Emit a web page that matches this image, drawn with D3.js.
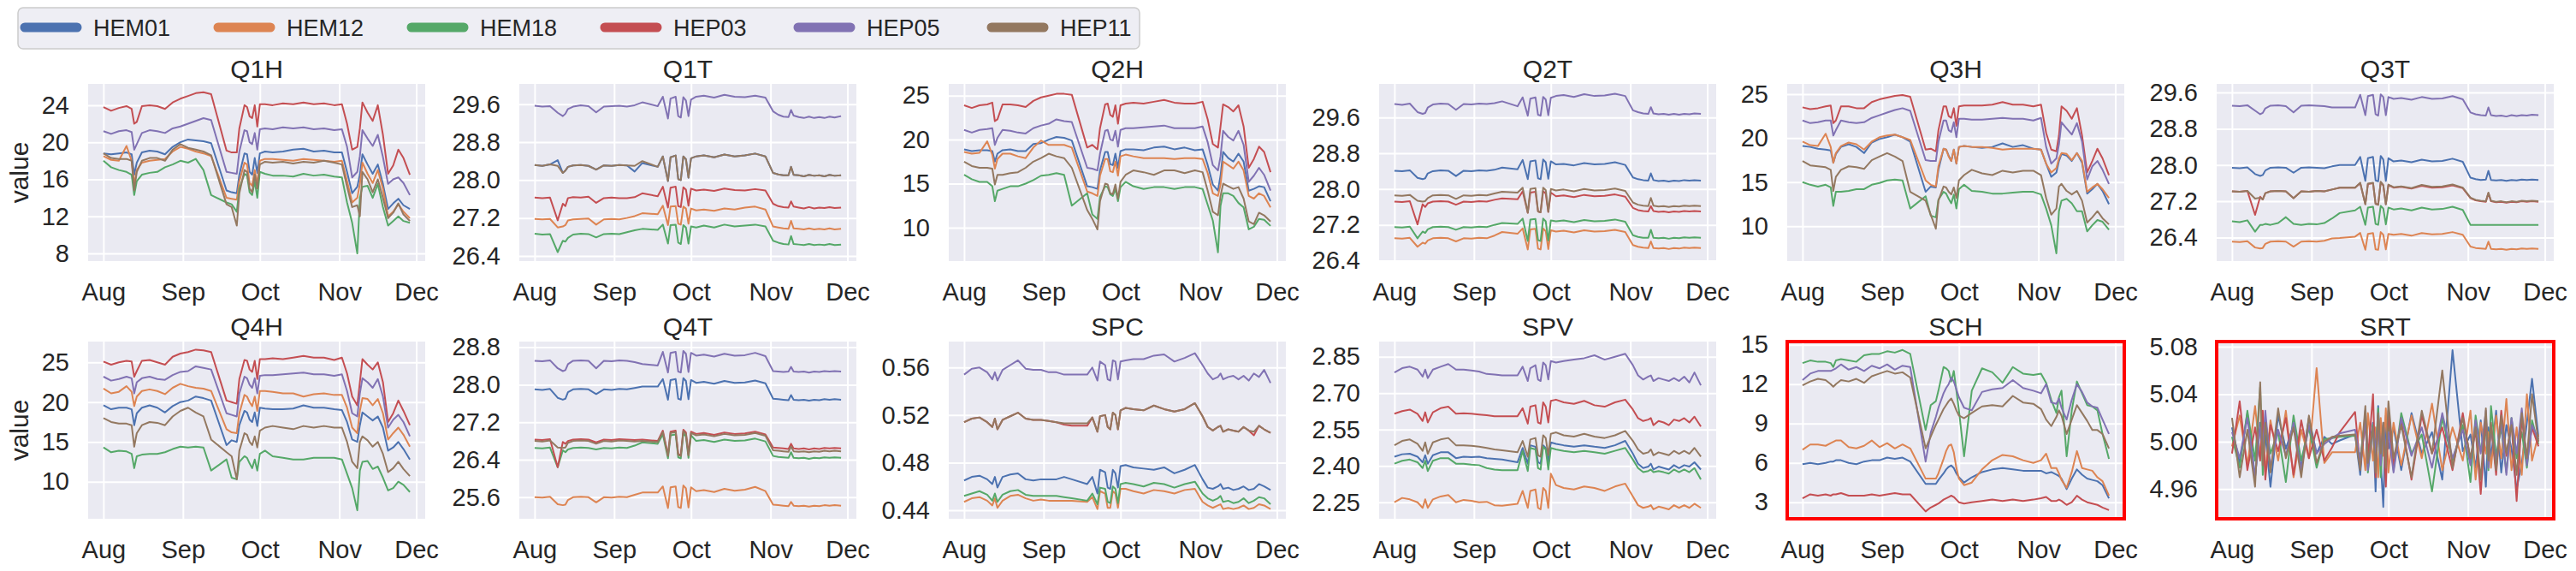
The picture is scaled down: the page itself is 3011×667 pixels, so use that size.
<!DOCTYPE html>
<html>
<head>
<meta charset="utf-8">
<script src="https://cdn.jsdelivr.net/npm/d3@7"></script>
<style>
  body { margin: 0; background: #fff; }
  svg text { font-family: "Liberation Sans", Arial, sans-serif; fill: #262626; }
</style>
</head>
<body>
<svg id="chart"></svg>
<script>
// day offsets from Aug 1 shared by every sensor series
const days = [0,3,6,9,11,12,13,15,18,21,24,27,30,33,36,39,42,48,50,52,53,55,56,57,58,59,60,61,63,66,70,74,78,82,86,90,93,95,97,99,100,101,103,105,107,109,111,113,115,117,119.5];

const sensors = ["HEM01","HEM12","HEM18","HEP03","HEP05","HEP11"];
const colors = ["#4c72b0","#dd8452","#55a868","#c44e52","#8172b3","#937860"];
const panelNames = ["Q1H","Q1T","Q2H","Q2T","Q3H","Q3T","Q4H","Q4T","SPC","SPV","SCH","SRT"];

// y ticks / limits / formats per panel
const yTicks = [
  [8,12,16,20,24],[26.4,27.2,28.0,28.8,29.6],[10,15,20,25],[26.4,27.2,28.0,28.8,29.6],
  [10,15,20,25],[26.4,27.2,28.0,28.8,29.6],[10,15,20,25],[25.6,26.4,27.2,28.0,28.8],
  [0.44,0.48,0.52,0.56],[2.25,2.40,2.55,2.70,2.85],[3,6,9,12,15],[4.96,5.00,5.04,5.08]
];
const yLimits = [
  [7.17,26.3],[26.29,30.03],[6.2,26.33],[26.39,30.35],[6.03,26.16],[25.88,29.79],
  [5.34,27.61],[25.14,28.92],[0.4328,0.5818],[2.182,2.9125],[1.74,15.24],[4.935,5.0843]
];
const yFormats = ["d",".1f","d",".1f","d",".1f","d",".1f",".2f",".2f","d",".2f"];
const highlighted = ["SCH","SRT"];

// series order: HEM01, HEM12, HEM18, HEP03, HEP05, HEP11
const Q1H = [
  [18.8,18.7,18.8,18.9,18.7,16.5,17.8,18.9,19.1,19.0,18.7,19.5,20.0,20.3,20.2,20.1,19.9,14.8,14.6,14.5,16.5,18.8,18.7,16.8,16.5,18.3,16.7,18.8,19.0,18.9,19.0,19.2,19.3,19.0,19.1,18.9,18.9,16.8,14.5,15.2,16.5,18.7,17.6,16.6,17.6,15.5,12.8,13.4,13.9,13.2,12.8],
  [18.5,18.1,18.0,19.6,18.0,15.5,17.0,17.8,18.0,18.1,18.2,19.0,19.5,19.3,19.0,18.8,18.5,14.0,13.9,13.8,15.8,17.8,17.6,15.6,15.3,17.0,15.5,18.0,18.2,18.2,18.1,18.0,18.2,18.1,18.0,17.9,18.0,15.8,13.5,14.0,15.5,17.8,16.6,15.6,17.0,15.0,12.0,12.5,13.3,12.5,11.8],
  [18.0,17.3,17.0,16.8,16.5,14.3,15.8,16.5,16.7,16.8,17.3,17.6,18.0,17.8,18.2,17.0,14.3,13.5,13.3,12.5,15.0,16.6,16.4,14.6,14.3,15.8,14.0,16.8,16.6,16.4,16.4,16.3,16.6,16.4,16.5,16.3,16.2,13.5,11.3,8.0,14.0,15.2,15.3,14.0,15.5,13.0,11.0,11.5,12.0,11.5,11.3],
  [23.8,23.4,23.7,23.9,23.6,22.0,22.2,23.9,24.0,23.9,23.6,24.3,24.7,25.0,25.3,25.4,25.2,19.1,18.9,18.9,21.5,24.0,23.8,22.8,22.6,24.0,21.7,24.1,24.1,24.0,24.2,24.1,24.3,24.1,24.2,24.0,24.1,22.0,19.2,19.5,21.5,24.3,23.2,22.3,24.0,20.8,16.6,17.5,19.2,18.3,16.5],
  [21.2,20.9,21.2,21.3,21.1,19.2,19.8,21.0,21.3,21.2,21.0,21.5,21.7,22.0,22.3,22.6,22.4,16.8,16.7,16.6,19.0,21.3,21.2,20.0,19.8,21.0,19.2,21.4,21.5,21.4,21.6,21.5,21.6,21.4,21.5,21.3,21.4,19.5,16.2,16.8,18.5,21.3,20.4,19.6,20.8,18.4,15.5,16.0,16.2,15.6,14.3],
  [18.8,18.3,18.2,18.2,18.0,14.8,16.8,18.0,18.3,18.3,18.0,19.2,19.8,19.4,19.2,19.0,18.6,13.3,13.0,11.0,14.5,17.0,16.8,15.0,14.6,16.5,15.0,17.6,17.9,17.8,17.9,17.7,17.9,17.8,18.0,17.8,17.6,15.2,13.0,13.2,12.0,16.8,16.0,14.6,16.0,14.0,11.8,12.4,13.4,12.2,11.5]
];
const Q1T = [
  [28.32,28.30,28.33,28.42,28.15,28.20,28.28,28.31,28.32,28.30,28.22,28.31,28.30,28.32,28.31,28.18,28.36,28.28,28.50,27.98,28.48,28.52,28.02,28.00,28.50,28.44,28.05,28.46,28.50,28.52,28.48,28.54,28.50,28.52,28.56,28.50,28.15,28.12,28.10,28.10,28.28,28.11,28.10,28.08,28.11,28.09,28.10,28.08,28.11,28.09,28.10],
  [27.18,27.17,27.18,27.00,27.02,27.05,27.15,27.17,27.18,27.19,27.06,27.17,27.18,27.17,27.20,27.24,27.30,27.28,27.46,27.05,27.44,27.45,27.08,27.06,27.44,27.40,27.08,27.40,27.36,27.38,27.35,27.40,27.38,27.42,27.44,27.38,27.02,27.00,26.98,26.97,27.14,26.98,26.97,26.96,26.98,26.96,26.97,26.96,26.98,26.96,26.97],
  [26.87,26.85,26.86,26.48,26.72,26.70,26.78,26.85,26.87,26.86,26.79,26.86,26.87,26.86,26.90,26.94,26.97,26.95,27.06,26.66,27.05,27.06,26.68,26.65,27.05,27.00,26.66,27.02,27.00,27.04,27.00,27.06,27.02,27.04,27.06,27.02,26.72,26.68,26.65,26.64,26.82,26.65,26.64,26.63,26.65,26.63,26.64,26.63,26.65,26.63,26.64],
  [27.63,27.62,27.63,27.15,27.50,27.45,27.62,27.64,27.63,27.65,27.52,27.62,27.63,27.62,27.62,27.64,27.72,27.66,27.86,27.42,27.84,27.86,27.45,27.43,27.85,27.80,27.46,27.82,27.78,27.80,27.77,27.82,27.79,27.78,27.81,27.78,27.50,27.45,27.43,27.42,27.55,27.44,27.42,27.40,27.43,27.40,27.42,27.41,27.43,27.41,27.42],
  [29.57,29.55,29.56,29.42,29.35,29.40,29.50,29.55,29.58,29.56,29.43,29.55,29.56,29.57,29.55,29.58,29.64,29.56,29.76,29.30,29.72,29.76,29.35,29.32,29.75,29.68,29.35,29.70,29.76,29.78,29.74,29.80,29.76,29.75,29.78,29.74,29.45,29.38,29.34,29.33,29.48,29.36,29.33,29.31,29.34,29.31,29.33,29.31,29.34,29.32,29.35],
  [28.32,28.30,28.33,28.30,28.15,28.20,28.28,28.31,28.32,28.30,28.22,28.31,28.30,28.32,28.31,28.30,28.40,28.28,28.50,27.98,28.48,28.52,28.02,28.00,28.50,28.44,28.05,28.46,28.50,28.52,28.48,28.54,28.50,28.52,28.56,28.50,28.15,28.12,28.10,28.10,28.28,28.11,28.10,28.08,28.11,28.09,28.10,28.08,28.11,28.09,28.10]
];
const Q2H = [
  [18.9,18.7,18.8,18.8,18.7,17.5,18.4,18.8,18.9,18.7,18.7,19.5,19.6,20.0,20.3,20.2,19.9,14.7,14.6,14.4,16.5,18.6,18.6,17.2,17.1,18.4,16.8,18.7,18.9,18.9,18.8,19.1,19.2,18.9,19.1,18.8,18.9,17.1,14.9,14.2,15.9,18.6,17.9,17.5,18.4,17.5,14.2,14.4,14.7,14.6,13.0],
  [18.6,18.4,18.5,19.8,18.3,16.7,17.8,18.4,18.4,18.1,17.9,19.1,19.9,19.4,19.4,19.4,19.1,14.1,13.9,13.6,15.9,17.8,17.8,16.4,16.3,17.5,15.9,18.1,18.3,18.1,17.9,17.9,17.9,17.8,17.9,17.9,17.8,16.2,13.9,13.6,14.9,17.5,17.1,16.7,17.5,16.5,13.6,13.3,13.9,13.6,12.3],
  [16.0,15.5,15.2,15.2,14.7,13.0,14.2,14.4,14.7,14.7,15.0,15.4,15.9,16.0,16.2,16.0,12.5,13.9,11.5,11.0,13.5,14.7,14.6,13.8,13.6,14.4,13.0,14.6,15.2,14.7,14.4,14.6,14.6,14.4,14.6,14.6,14.4,12.6,10.8,7.2,12.5,13.9,13.9,13.6,12.8,12.3,9.8,10.1,11.0,10.9,10.2],
  [23.9,23.6,23.9,24.0,24.2,22.1,22.3,24.0,24.0,23.9,23.7,24.4,24.8,25.0,25.2,25.2,25.1,19.1,19.4,18.9,21.3,24.0,24.1,22.8,22.6,23.9,21.8,23.9,24.1,24.2,24.1,24.3,24.5,24.2,24.1,24.1,24.3,22.3,19.5,19.1,21.5,24.0,23.7,23.2,23.9,21.5,16.8,17.8,19.2,18.6,16.3],
  [21.1,20.8,21.1,21.2,21.3,19.4,20.2,21.1,21.0,20.8,20.7,21.3,21.6,21.8,22.3,22.1,22.0,16.8,16.7,16.5,18.4,21.0,21.1,20.0,19.9,21.0,19.2,21.1,21.3,21.3,21.4,21.5,21.6,21.3,21.3,21.3,21.5,19.7,17.1,16.5,18.1,21.0,20.3,19.9,21.0,19.4,15.2,15.9,16.8,16.0,14.2],
  [17.5,17.0,16.8,16.8,16.7,14.9,16.0,16.0,16.2,16.3,16.8,17.5,17.9,18.4,18.1,17.9,16.8,12.0,11.0,9.8,13.0,15.0,14.9,13.9,13.8,14.9,13.3,15.2,16.0,16.5,16.3,16.0,16.5,16.5,16.2,16.5,16.3,14.2,11.8,11.4,13.6,15.0,14.7,14.4,14.6,13.3,10.7,10.4,11.7,11.4,10.7]
];
const Q2T = [
  [28.41,28.40,28.42,28.25,28.22,28.24,28.35,28.40,28.42,28.41,28.29,28.41,28.40,28.42,28.41,28.43,28.48,28.44,28.65,28.22,28.62,28.64,28.24,28.22,28.66,28.60,28.23,28.62,28.55,28.56,28.53,28.58,28.55,28.56,28.60,28.54,28.26,28.22,28.20,28.19,28.35,28.20,28.18,28.19,28.17,28.19,28.18,28.20,28.19,28.20,28.19],
  [26.90,26.89,26.91,26.71,26.80,26.78,26.85,26.90,26.91,26.90,26.83,26.90,26.89,26.91,26.90,26.96,27.04,27.00,27.12,26.65,27.10,27.11,26.67,26.65,27.12,27.06,26.66,27.08,27.05,27.07,27.03,27.08,27.05,27.06,27.09,27.04,26.75,26.71,26.69,26.68,26.83,26.68,26.67,26.68,26.66,26.68,26.67,26.69,26.68,26.69,26.68],
  [27.15,27.14,27.16,26.90,27.05,27.02,27.10,27.15,27.16,27.15,27.09,27.15,27.14,27.16,27.15,27.20,27.24,27.22,27.34,26.84,27.32,27.33,26.86,26.84,27.34,27.28,26.85,27.30,27.28,27.30,27.26,27.31,27.28,27.29,27.32,27.27,26.97,26.93,26.91,26.91,27.09,26.91,26.90,26.91,26.89,26.91,26.90,26.92,26.91,26.92,26.91],
  [27.72,27.71,27.73,27.21,27.66,27.60,27.68,27.72,27.73,27.72,27.65,27.72,27.71,27.73,27.72,27.76,27.79,27.77,27.95,27.47,27.92,27.94,27.50,27.48,27.95,27.90,27.49,27.92,27.84,27.86,27.82,27.87,27.84,27.85,27.88,27.83,27.58,27.53,27.51,27.50,27.62,27.51,27.49,27.50,27.48,27.50,27.49,27.51,27.50,27.51,27.50],
  [29.90,29.88,29.91,29.72,29.68,29.70,29.82,29.89,29.91,29.90,29.77,29.90,29.89,29.91,29.90,29.92,29.96,29.85,30.05,29.64,30.02,30.05,29.66,29.64,30.06,30.00,29.65,30.04,30.08,30.10,30.06,30.12,30.08,30.09,30.13,30.08,29.76,29.72,29.69,29.68,29.83,29.69,29.67,29.68,29.66,29.68,29.66,29.68,29.67,29.69,29.68],
  [27.86,27.85,27.87,27.74,27.72,27.73,27.80,27.86,27.87,27.86,27.78,27.86,27.85,27.87,27.86,27.90,27.94,27.92,28.03,27.47,28.00,28.02,27.50,27.48,28.03,27.98,27.49,28.00,27.97,27.99,27.95,28.00,27.97,27.98,28.01,27.96,27.70,27.65,27.63,27.62,27.80,27.63,27.61,27.62,27.60,27.62,27.61,27.63,27.62,27.63,27.62]
];
const Q3H = [
  [19.1,19.0,18.8,18.7,18.6,17.2,18.2,19.0,19.3,19.0,18.3,19.5,19.9,20.1,20.4,20.1,19.6,13.9,14.5,14.4,16.4,18.8,18.7,18.0,17.4,18.7,17.1,19.0,19.1,19.0,18.9,19.0,19.4,19.0,19.2,18.8,18.7,17.1,15.6,16.1,17.4,18.2,18.0,17.4,18.3,17.2,13.7,14.2,14.8,14.0,12.5],
  [19.6,19.2,19.1,20.5,19.0,17.2,18.3,19.1,19.5,19.3,18.7,19.6,20.1,20.3,20.4,20.1,19.8,15.2,14.7,14.5,16.8,18.8,18.7,17.9,17.4,18.7,17.1,19.0,19.1,19.0,19.0,18.9,18.7,18.8,18.8,18.8,18.7,17.1,16.1,16.6,17.7,18.3,18.2,17.5,18.3,17.4,13.9,14.4,14.8,14.2,13.2],
  [15.0,14.7,14.5,14.7,14.4,12.3,13.9,13.9,14.0,14.2,14.2,14.7,14.9,15.2,15.3,15.2,12.0,13.4,11.2,11.0,13.0,13.9,13.7,13.1,12.6,13.6,12.0,14.2,14.7,14.0,13.9,13.7,13.7,13.8,13.9,13.9,13.6,12.0,10.1,6.9,11.7,12.9,13.1,12.6,11.7,11.7,9.4,10.1,10.7,10.5,9.6],
  [23.5,23.3,23.4,23.6,23.7,21.7,22.0,23.6,23.6,23.4,23.4,24.1,24.4,24.6,24.8,24.9,24.7,18.7,18.8,18.5,20.9,23.6,23.6,22.5,22.3,23.4,21.4,23.6,23.7,23.7,23.7,23.8,24.1,23.8,23.8,23.6,23.8,20.6,18.7,18.5,20.3,23.6,23.1,22.2,23.4,20.3,16.1,17.4,18.8,17.7,15.8],
  [22.0,21.7,21.8,22.0,22.0,20.3,20.9,22.0,21.8,21.7,21.8,22.3,22.6,22.9,23.2,23.4,23.1,17.5,17.4,17.4,19.6,22.0,22.0,20.9,20.7,21.8,20.1,22.2,22.2,22.1,22.1,22.2,22.3,22.2,22.2,22.0,22.3,19.0,17.1,17.7,19.3,21.8,21.1,20.4,21.7,19.6,15.3,16.8,17.4,16.4,14.8],
  [17.4,16.9,16.8,16.7,16.4,14.0,15.6,16.4,16.8,16.7,16.5,17.5,17.9,18.3,17.9,17.4,13.9,12.9,11.3,9.7,12.9,14.5,14.4,13.9,13.6,14.4,13.2,15.2,15.8,16.4,16.0,15.8,16.3,16.1,16.3,16.3,15.8,13.2,11.3,12.0,14.5,14.8,14.0,13.6,14.0,12.9,10.4,11.0,11.7,10.9,10.2]
];
const Q3T = [
  [27.94,27.93,27.95,27.80,27.76,27.78,27.88,27.94,27.95,27.94,27.83,27.94,27.95,27.94,27.93,27.97,28.00,28.00,28.18,27.65,28.15,28.18,27.66,27.64,28.20,28.12,27.65,28.15,28.08,28.10,28.06,28.12,28.08,28.09,28.14,28.07,27.72,27.69,27.67,27.68,27.87,27.67,27.66,27.67,27.65,27.67,27.66,27.68,27.67,27.68,27.67],
  [26.31,26.30,26.32,26.18,26.16,26.17,26.26,26.31,26.32,26.31,26.20,26.31,26.32,26.31,26.33,26.38,26.39,26.42,26.50,26.13,26.48,26.50,26.14,26.13,26.52,26.46,26.14,26.48,26.46,26.48,26.44,26.50,26.47,26.48,26.52,26.46,26.20,26.17,26.16,26.15,26.31,26.15,26.14,26.15,26.13,26.15,26.14,26.16,26.15,26.16,26.15],
  [26.76,26.74,26.78,26.53,26.68,26.68,26.70,26.68,26.72,26.85,26.70,26.68,26.70,26.69,26.72,26.82,26.94,27.00,27.08,26.68,27.06,27.08,26.70,26.68,27.10,27.04,26.69,27.06,27.02,27.04,27.00,27.06,27.02,27.03,27.08,27.01,26.68,26.68,26.68,26.68,26.68,26.68,26.68,26.68,26.68,26.68,26.68,26.68,26.68,26.68,26.68],
  [27.42,27.41,27.43,26.90,27.30,27.24,27.38,27.42,27.43,27.42,27.27,27.42,27.41,27.43,27.42,27.46,27.50,27.50,27.60,27.14,27.58,27.60,27.15,27.13,27.62,27.55,27.14,27.56,27.50,27.52,27.48,27.54,27.50,27.51,27.55,27.49,27.27,27.22,27.20,27.19,27.38,27.20,27.18,27.19,27.17,27.19,27.18,27.20,27.19,27.20,27.19],
  [29.31,29.30,29.32,29.20,29.12,29.15,29.25,29.31,29.32,29.30,29.16,29.31,29.32,29.31,29.30,29.27,29.27,29.27,29.55,29.10,29.52,29.55,29.12,29.09,29.56,29.50,29.10,29.50,29.46,29.48,29.44,29.50,29.46,29.47,29.52,29.45,29.16,29.12,29.10,29.09,29.27,29.10,29.08,29.09,29.07,29.10,29.08,29.10,29.09,29.11,29.10],
  [27.42,27.41,27.43,27.26,27.28,27.24,27.38,27.42,27.43,27.42,27.27,27.42,27.41,27.43,27.42,27.46,27.50,27.50,27.61,27.13,27.59,27.61,27.14,27.12,27.63,27.56,27.13,27.57,27.51,27.53,27.49,27.56,27.52,27.53,27.57,27.50,27.28,27.23,27.21,27.20,27.39,27.21,27.19,27.20,27.18,27.20,27.19,27.21,27.20,27.21,27.20]
];
const Q4H = [
  [19.6,19.1,19.3,19.3,19.1,17.1,18.6,19.3,19.6,19.3,18.7,19.5,20.0,20.2,20.7,20.5,20.2,14.6,15.2,15.0,17.1,18.9,18.7,17.8,17.5,18.7,17.0,19.3,19.2,19.1,19.1,19.2,19.6,19.3,19.3,19.1,19.0,17.5,15.3,15.0,17.1,18.7,18.2,17.7,18.2,16.8,13.9,14.3,15.0,14.1,12.8],
  [21.7,21.1,21.3,22.0,21.3,19.5,20.7,21.4,21.6,21.4,21.0,21.8,22.3,22.0,21.8,21.7,21.4,16.6,16.2,16.1,18.6,20.9,20.7,20.0,19.5,20.7,18.9,21.4,21.4,21.3,21.1,21.1,20.7,21.0,21.1,20.9,20.9,19.3,16.8,16.1,18.9,20.5,20.4,19.6,20.4,18.6,15.3,16.1,16.8,15.9,14.4],
  [14.3,13.7,13.9,13.8,13.5,11.7,13.2,13.4,13.5,13.5,13.7,14.1,14.4,14.3,14.4,14.3,11.4,12.8,10.5,10.3,12.5,13.2,13.0,12.3,11.7,12.8,11.4,13.5,13.9,13.2,13.0,12.8,12.8,13.0,13.0,13.0,12.8,11.0,9.2,6.4,11.4,12.5,12.6,11.6,11.9,10.5,8.9,9.2,10.0,9.6,8.7],
  [25.1,24.7,25.0,25.2,25.1,23.2,23.9,25.2,25.3,25.0,24.7,25.7,26.1,26.3,26.6,26.5,26.3,20.2,20.0,19.8,22.9,25.3,25.2,24.1,23.8,25.2,22.9,25.4,25.4,25.5,25.4,25.6,25.8,25.6,25.6,25.3,25.6,23.6,20.7,19.6,22.5,25.4,24.7,24.1,25.0,22.5,17.5,18.6,20.2,18.9,17.1],
  [23.2,22.7,22.9,23.2,23.0,21.1,22.5,23.0,23.2,22.9,22.8,23.4,23.8,23.9,24.5,24.3,24.1,18.6,18.4,18.2,21.1,23.2,23.0,22.2,21.8,23.0,21.1,23.3,23.4,23.4,23.5,23.6,23.7,23.5,23.5,23.3,23.5,21.4,18.6,18.2,21.1,23.0,22.5,21.8,22.9,20.7,16.8,17.8,18.4,17.5,15.7],
  [18.0,17.5,17.3,17.3,17.1,14.4,16.1,17.1,17.5,17.4,17.1,18.2,18.9,19.3,18.7,18.2,15.3,13.7,13.2,10.3,13.9,16.1,15.9,15.0,14.6,15.7,14.3,16.4,16.8,17.0,16.8,16.6,17.0,16.8,17.0,16.8,16.8,15.0,12.5,11.7,15.0,15.7,15.2,14.4,15.0,13.5,11.2,11.7,12.5,11.6,10.7]
];
const Q4T = [
  [27.90,27.89,27.91,27.72,27.68,27.70,27.84,27.90,27.91,27.90,27.80,27.90,27.89,27.91,27.90,27.93,27.96,27.96,28.12,27.68,28.10,28.12,27.70,27.68,28.14,28.08,27.69,28.10,28.04,28.06,28.02,28.08,28.04,28.05,28.09,28.03,27.70,27.69,27.68,27.67,27.78,27.68,27.67,27.68,27.66,27.68,27.67,27.69,27.68,27.69,27.68],
  [25.60,25.59,25.61,25.45,25.43,25.44,25.54,25.60,25.61,25.60,25.49,25.60,25.59,25.61,25.60,25.65,25.70,25.70,25.83,25.37,25.81,25.83,25.39,25.37,25.85,25.79,25.38,25.81,25.73,25.75,25.71,25.78,25.74,25.76,25.82,25.73,25.44,25.43,25.42,25.41,25.50,25.42,25.41,25.42,25.40,25.42,25.41,25.43,25.42,25.43,25.42],
  [26.65,26.64,26.66,26.24,26.60,26.56,26.62,26.65,26.66,26.65,26.62,26.65,26.64,26.66,26.65,26.70,26.77,26.74,26.94,26.43,26.92,26.94,26.45,26.43,26.96,26.90,26.44,26.92,26.80,26.82,26.78,26.83,26.80,26.81,26.85,26.79,26.48,26.46,26.45,26.44,26.56,26.44,26.43,26.44,26.42,26.44,26.43,26.45,26.44,26.45,26.44],
  [26.83,26.82,26.84,26.24,26.78,26.74,26.80,26.83,26.84,26.83,26.77,26.83,26.82,26.84,26.83,26.82,26.83,26.80,27.02,26.50,27.00,27.02,26.52,26.50,27.04,26.98,26.51,27.00,26.95,26.97,26.93,26.98,26.95,26.96,27.00,26.94,26.66,26.65,26.64,26.63,26.74,26.64,26.63,26.64,26.62,26.64,26.63,26.65,26.64,26.65,26.64],
  [28.51,28.50,28.52,28.35,28.29,28.31,28.44,28.51,28.52,28.51,28.35,28.51,28.50,28.52,28.51,28.48,28.44,28.41,28.70,28.26,28.68,28.70,28.28,28.26,28.72,28.66,28.27,28.68,28.62,28.64,28.60,28.66,28.62,28.63,28.68,28.61,28.29,28.28,28.27,28.28,28.38,28.28,28.27,28.28,28.26,28.28,28.27,28.29,28.28,28.29,28.28],
  [26.80,26.79,26.81,26.66,26.65,26.66,26.76,26.80,26.81,26.80,26.74,26.80,26.79,26.81,26.80,26.79,26.80,26.78,26.99,26.48,26.97,26.99,26.50,26.48,27.01,26.95,26.49,26.97,26.92,26.94,26.90,26.95,26.92,26.93,26.97,26.91,26.60,26.59,26.58,26.57,26.68,26.58,26.57,26.58,26.56,26.58,26.57,26.59,26.58,26.59,26.58]
];
const SPC = [
  [0.465,0.468,0.469,0.466,0.462,0.468,0.459,0.468,0.470,0.471,0.466,0.465,0.466,0.466,0.466,0.468,0.466,0.462,0.468,0.454,0.474,0.472,0.459,0.458,0.474,0.471,0.459,0.477,0.478,0.476,0.475,0.474,0.476,0.471,0.474,0.478,0.466,0.459,0.458,0.460,0.462,0.458,0.459,0.457,0.458,0.460,0.457,0.458,0.462,0.460,0.457],
  [0.447,0.450,0.451,0.448,0.444,0.450,0.442,0.448,0.452,0.453,0.450,0.448,0.449,0.448,0.448,0.448,0.448,0.447,0.451,0.441,0.456,0.454,0.442,0.442,0.456,0.454,0.442,0.458,0.458,0.456,0.454,0.457,0.456,0.454,0.457,0.458,0.447,0.444,0.442,0.444,0.445,0.441,0.442,0.441,0.442,0.444,0.441,0.442,0.445,0.444,0.441],
  [0.452,0.454,0.456,0.453,0.448,0.454,0.447,0.453,0.456,0.457,0.453,0.452,0.452,0.452,0.452,0.451,0.450,0.448,0.454,0.445,0.459,0.458,0.447,0.446,0.460,0.458,0.446,0.462,0.463,0.462,0.460,0.463,0.462,0.459,0.462,0.464,0.454,0.450,0.448,0.450,0.452,0.447,0.448,0.446,0.447,0.450,0.446,0.448,0.451,0.450,0.445],
  [0.514,0.517,0.518,0.514,0.510,0.517,0.508,0.516,0.519,0.522,0.517,0.516,0.516,0.515,0.514,0.512,0.511,0.511,0.518,0.506,0.519,0.520,0.510,0.508,0.522,0.520,0.508,0.524,0.526,0.525,0.524,0.528,0.525,0.523,0.525,0.530,0.519,0.510,0.507,0.510,0.511,0.506,0.508,0.507,0.506,0.510,0.507,0.503,0.511,0.508,0.505],
  [0.554,0.559,0.560,0.556,0.550,0.556,0.549,0.558,0.562,0.566,0.559,0.558,0.558,0.556,0.556,0.554,0.554,0.554,0.560,0.549,0.565,0.562,0.550,0.549,0.566,0.565,0.550,0.565,0.566,0.567,0.567,0.570,0.571,0.565,0.568,0.572,0.562,0.555,0.550,0.552,0.555,0.550,0.552,0.553,0.550,0.553,0.549,0.555,0.552,0.558,0.547],
  [0.514,0.517,0.518,0.514,0.510,0.517,0.508,0.516,0.519,0.522,0.517,0.516,0.516,0.515,0.514,0.513,0.513,0.513,0.518,0.506,0.519,0.520,0.510,0.508,0.522,0.520,0.508,0.524,0.526,0.525,0.524,0.528,0.525,0.523,0.525,0.530,0.519,0.510,0.507,0.510,0.511,0.506,0.508,0.507,0.506,0.510,0.507,0.506,0.511,0.508,0.505]
];
const SPV = [
  [2.438,2.448,2.450,2.438,2.415,2.444,2.409,2.444,2.456,2.456,2.432,2.438,2.436,2.438,2.432,2.429,2.426,2.415,2.474,2.409,2.485,2.479,2.415,2.409,2.485,2.474,2.415,2.497,2.491,2.485,2.479,2.485,2.479,2.474,2.485,2.503,2.450,2.409,2.391,2.397,2.409,2.385,2.397,2.391,2.385,2.403,2.391,2.403,2.397,2.415,2.385],
  [2.250,2.268,2.262,2.250,2.227,2.262,2.227,2.262,2.274,2.280,2.250,2.260,2.256,2.250,2.252,2.238,2.236,2.244,2.297,2.227,2.297,2.303,2.227,2.221,2.309,2.297,2.227,2.368,2.321,2.309,2.303,2.315,2.309,2.297,2.315,2.327,2.274,2.238,2.227,2.232,2.238,2.221,2.232,2.227,2.221,2.238,2.227,2.238,2.227,2.244,2.227],
  [2.409,2.421,2.426,2.415,2.391,2.421,2.379,2.421,2.432,2.432,2.409,2.409,2.405,2.403,2.391,2.385,2.382,2.382,2.462,2.379,2.474,2.468,2.391,2.385,2.479,2.468,2.385,2.474,2.468,2.462,2.456,2.462,2.456,2.450,2.462,2.474,2.426,2.391,2.374,2.379,2.385,2.374,2.379,2.374,2.368,2.385,2.374,2.385,2.374,2.391,2.344],
  [2.615,2.626,2.632,2.615,2.585,2.621,2.579,2.621,2.638,2.644,2.615,2.617,2.615,2.612,2.609,2.605,2.605,2.605,2.638,2.574,2.644,2.650,2.579,2.574,2.662,2.644,2.579,2.668,2.673,2.662,2.656,2.668,2.650,2.644,2.662,2.673,2.632,2.597,2.585,2.591,2.597,2.568,2.585,2.579,2.568,2.591,2.585,2.597,2.579,2.603,2.562],
  [2.785,2.803,2.809,2.797,2.768,2.797,2.762,2.797,2.809,2.820,2.797,2.797,2.793,2.789,2.779,2.777,2.773,2.773,2.809,2.750,2.803,2.815,2.756,2.750,2.826,2.815,2.756,2.832,2.826,2.832,2.838,2.844,2.856,2.838,2.850,2.862,2.815,2.773,2.756,2.768,2.773,2.750,2.762,2.756,2.750,2.762,2.750,2.768,2.744,2.785,2.732],
  [2.485,2.503,2.509,2.491,2.462,2.497,2.450,2.497,2.509,2.515,2.485,2.485,2.483,2.479,2.474,2.468,2.464,2.456,2.503,2.438,2.509,2.515,2.444,2.438,2.526,2.515,2.444,2.532,2.538,2.526,2.521,2.532,2.521,2.515,2.526,2.544,2.503,2.468,2.450,2.456,2.468,2.444,2.456,2.450,2.444,2.462,2.450,2.462,2.450,2.474,2.438]
];
const SCH = [
  [5.9,6.0,5.9,6.0,6.1,6.1,6.2,6.2,6.0,5.9,6.1,6.2,6.2,6.4,6.3,6.4,6.1,4.4,4.4,4.4,4.7,5.2,5.5,5.7,5.8,5.6,5.2,4.9,4.5,4.9,5.3,5.5,5.6,5.5,5.4,5.4,5.4,5.2,5.3,5.1,5.0,4.8,4.0,4.8,5.5,5.1,4.8,4.7,4.6,4.3,3.3],
  [7.0,7.4,7.4,7.3,7.5,7.6,7.7,7.7,7.2,7.1,7.3,7.7,7.2,7.5,7.1,7.4,7.1,4.8,4.8,4.8,5.2,6.3,6.9,7.3,7.4,6.8,5.6,4.8,4.3,4.5,5.5,6.2,6.6,6.5,6.2,6.0,6.2,6.7,5.6,5.6,5.2,4.7,4.1,5.3,6.9,5.6,5.5,5.4,4.9,4.6,3.5],
  [13.6,13.8,13.7,13.7,13.6,13.3,13.8,13.9,13.8,13.7,14.2,14.3,14.3,14.5,14.4,14.6,14.3,8.5,10.4,10.7,11.5,13.3,13.2,13.0,12.2,13.0,11.5,10.0,6.5,11.5,13.2,12.9,12.1,13.3,12.8,12.7,12.8,12.1,10.8,9.8,11.0,11.5,6.5,10.0,12.2,11.3,10.4,10.3,10.0,8.2,6.3],
  [3.3,3.6,3.5,3.6,3.5,3.6,3.6,3.7,3.5,3.5,3.5,3.6,3.5,3.6,3.7,3.6,3.6,2.3,2.6,2.8,2.9,3.2,3.3,3.4,3.5,3.4,3.2,3.0,2.9,3.0,3.1,3.2,3.1,3.2,3.1,3.2,3.3,3.4,3.1,3.1,3.2,3.1,2.8,3.0,3.5,3.2,3.0,2.9,2.8,2.6,2.4],
  [12.3,12.8,13.0,13.0,13.0,13.1,13.2,13.5,13.1,13.3,13.0,13.4,13.2,13.5,13.1,13.4,13.3,6.1,8.3,9.5,10.2,11.3,11.7,12.0,12.5,12.2,11.6,11.0,10.2,10.0,11.4,11.6,11.7,12.3,11.7,11.5,11.3,12.0,10.6,10.5,10.9,10.2,9.3,10.8,12.0,11.4,10.6,10.3,10.2,9.3,8.2],
  [11.9,12.2,12.4,12.3,12.0,11.8,12.0,12.3,12.2,12.4,12.1,12.6,12.8,13.0,12.8,12.9,12.5,7.1,8.0,8.9,9.3,10.1,10.4,10.7,10.9,10.5,10.0,9.6,9.4,9.8,10.3,10.4,10.3,11.1,10.6,10.5,10.1,9.3,8.8,9.5,10.0,9.6,8.2,9.3,10.4,9.8,9.2,8.5,8.5,8.2,7.1]
];
const SRT = [
  [5.012,4.982,5.024,4.970,5.016,4.988,5.006,4.962,5.022,4.994,5.014,4.978,5.020,4.990,5.004,4.998,5.001,5.006,4.972,5.026,4.988,5.016,4.958,5.030,4.984,4.945,5.022,4.994,5.012,4.976,5.024,4.990,5.008,4.968,5.077,4.992,5.006,4.978,5.018,4.962,5.012,4.986,5.026,4.974,5.014,4.994,4.960,4.982,5.016,5.053,5.004],
  [4.996,5.022,4.980,5.030,4.988,5.012,4.974,5.018,4.984,5.026,4.970,5.010,4.986,5.062,4.982,4.991,4.991,4.991,5.016,4.976,5.024,4.984,5.012,4.970,5.020,4.988,5.028,4.974,5.016,4.980,5.022,4.986,5.032,4.976,5.012,4.984,5.026,4.968,5.016,4.990,5.008,4.978,5.022,4.986,5.036,4.976,5.012,4.972,5.040,4.984,5.006],
  [5.004,4.978,5.026,4.984,5.046,4.972,5.018,4.990,5.008,4.966,5.022,4.984,5.012,4.978,5.002,5.003,5.004,5.005,4.986,5.020,4.974,5.014,4.990,5.028,4.970,5.010,4.984,5.018,4.976,5.024,4.990,5.006,4.958,5.020,4.984,5.014,4.966,5.022,4.992,5.010,4.976,5.030,4.988,5.012,4.974,5.020,4.986,5.008,4.978,5.018,4.998],
  [4.990,5.034,4.976,5.012,4.984,5.026,4.968,5.014,4.992,5.020,4.972,5.018,4.986,5.010,4.984,4.995,5.008,5.025,4.978,5.016,4.986,5.040,4.970,5.022,4.988,5.014,4.962,5.026,4.980,5.018,4.968,5.022,4.990,5.012,4.976,5.024,4.984,5.010,4.956,5.020,4.986,5.014,4.972,5.026,4.988,5.016,4.950,5.020,4.984,5.012,4.996],
  [5.008,4.986,5.020,4.970,5.012,4.994,5.026,4.978,5.010,4.988,5.016,4.976,5.014,4.990,4.998,5.003,5.007,5.010,4.984,5.018,4.976,5.012,4.990,5.022,4.980,5.016,4.992,5.008,4.974,5.020,4.988,5.012,4.978,5.024,4.986,5.010,4.980,5.018,4.990,5.026,4.978,5.012,4.984,5.016,4.972,5.020,4.990,5.028,4.980,5.014,5.002],
  [5.020,4.970,5.010,4.962,5.050,4.980,5.016,4.974,5.028,4.986,5.012,4.970,5.022,4.982,5.000,5.004,5.005,5.006,4.976,5.030,4.982,5.012,4.974,5.024,4.990,5.016,4.978,5.034,4.986,5.014,4.970,5.026,4.990,5.060,4.978,5.020,4.986,5.012,4.968,5.028,4.984,5.016,4.976,5.022,4.990,5.014,4.972,5.024,4.986,5.040,5.000]
];
const panelData = [Q1H,Q1T,Q2H,Q2T,Q3H,Q3T,Q4H,Q4T,SPC,SPV,SCH,SRT];

// layout (pixels)
const W = 3011, H = 667;
const colLeft = [103, 607, 1109, 1612, 2089, 2591];
const rowTop = [98, 399];
const plotW = 394, plotH = 207;

const start = new Date(2021, 7, 1);
const dates = days.map(d => new Date(start.getTime() + d * 864e5));

const svg = d3.select("#chart").attr("width", W).attr("height", H);

const ext = d3.extent(dates);
const pad = (ext[1] - ext[0]) * 0.05;
const x = d3.scaleTime()
  .domain([new Date(+ext[0] - pad), new Date(+ext[1] + pad)])
  .range([0, plotW]);
const monthTicks = d3.timeMonth.range(x.domain()[0], x.domain()[1]);

const line = d3.line().x((d, i) => x(dates[i])).y(d => d);

const bad = [];

panelNames.forEach((name, p) => {
  const col = p % 6, row = Math.floor(p / 6);
  const g = svg.append("g").attr("transform", `translate(${colLeft[col]},${rowTop[row]})`);
  const y = d3.scaleLinear().domain(yLimits[p]).range([plotH, 0]);

  g.append("rect").attr("width", plotW).attr("height", plotH).attr("fill", "#eaeaf2");

  const gx = g.append("g").attr("transform", `translate(0,${plotH})`)
    .call(d3.axisBottom(x).tickValues(monthTicks).tickFormat(d3.timeFormat("%b"))
      .tickSize(-plotH).tickPadding(25));
  gx.select(".domain").remove();
  gx.selectAll("line").attr("stroke", "#fff").attr("stroke-width", 2);
  gx.selectAll("text").attr("font-size", 29).attr("fill", "#262626");

  const gy = g.append("g")
    .call(d3.axisLeft(y).tickValues(yTicks[p]).tickFormat(d3.format(yFormats[p]))
      .tickSize(-plotW).tickPadding(22));
  gy.select(".domain").remove();
  gy.selectAll("line").attr("stroke", "#fff").attr("stroke-width", 2);
  gy.selectAll("text").attr("font-size", 29).attr("fill", "#262626");

  const clipId = "clip" + p;
  g.append("clipPath").attr("id", clipId)
    .append("rect").attr("width", plotW).attr("height", plotH);

  const lines = g.append("g").attr("clip-path", `url(#${clipId})`);
  panelData[p].forEach((vals, s) => {
    if (vals.length !== days.length) bad.push(name + " " + sensors[s] + " " + vals.length);
    const ly = line.y(v => y(v));
    lines.append("path")
      .attr("d", ly(vals))
      .attr("fill", "none")
      .attr("stroke", colors[s])
      .attr("stroke-width", 2)
      .attr("stroke-linejoin", "round");
  });

  g.append("text").attr("x", plotW / 2).attr("y", -7)
    .attr("text-anchor", "middle").attr("font-size", 30).text(name);

  if (highlighted.includes(name)) {
    g.append("rect").attr("width", plotW).attr("height", plotH)
      .attr("fill", "none").attr("stroke", "#ff0000").attr("stroke-width", 4);
  }

  if (col === 0) {
    svg.append("text")
      .attr("transform", `translate(33,${rowTop[row] + plotH / 2}) rotate(-90)`)
      .attr("text-anchor", "middle").attr("font-size", 30).text("value");
  }
});

// legend
const lg = svg.append("g");
lg.append("rect").attr("x", 21).attr("y", 9).attr("width", 1311).attr("height", 48)
  .attr("rx", 6).attr("fill", "#eeeef4").attr("stroke", "#cccccc").attr("stroke-width", 1.5);
sensors.forEach((s, i) => {
  const ox = 226 * i;
  lg.append("line").attr("x1", 29 + ox).attr("x2", 90 + ox).attr("y1", 32).attr("y2", 32)
    .attr("stroke", colors[i]).attr("stroke-width", 11).attr("stroke-linecap", "round");
  lg.append("text").attr("x", 109 + ox).attr("y", 42).attr("font-size", 27).text(s);
});

if (bad.length) throw new Error("length mismatch: " + bad.join(", "));
</script>
</body>
</html>
